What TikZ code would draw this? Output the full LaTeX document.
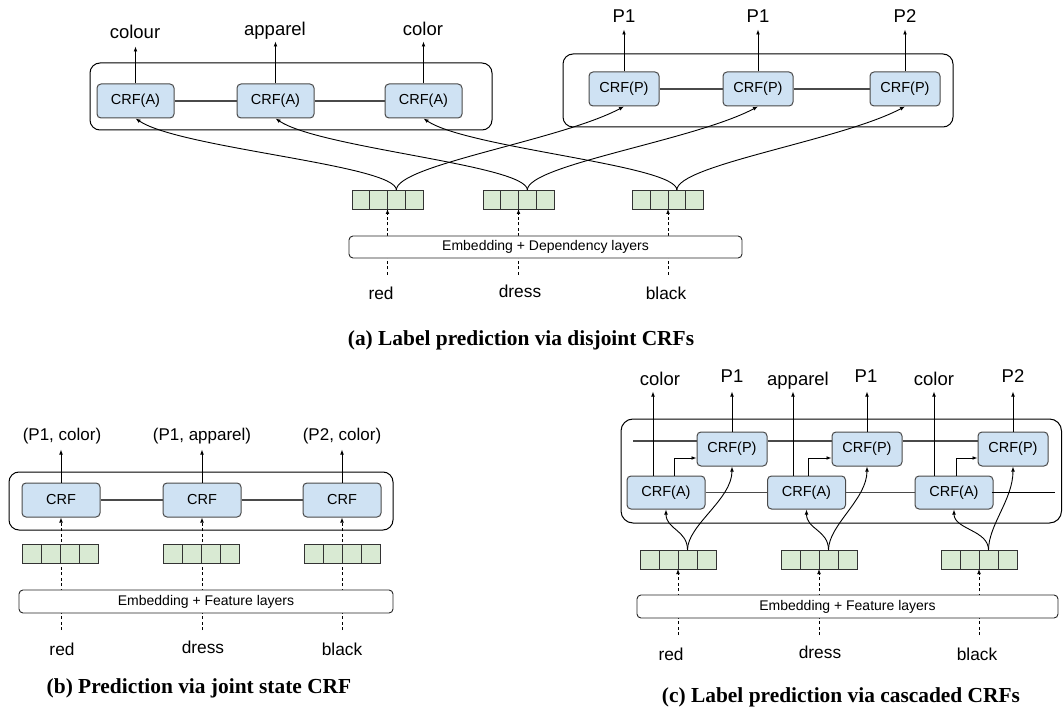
\documentclass[tikz,border=0pt]{standalone}
\usepackage{fontspec}
\setmainfont{Liberation Sans}
\newfontfamily\capfont{Liberation Serif}
\usetikzlibrary{arrows.meta}
\definecolor{crffill}{HTML}{CFE2F3}
\definecolor{crfline}{HTML}{4A4A4A}
\definecolor{barfill}{HTML}{D9EAD3}
\definecolor{barline}{HTML}{333333}
\newcommand{\fs}[1]{\fontsize{#1}{#1}\selectfont}
\newcommand{\featbar}[4]{\foreach \k in {1,2,3,4}{\node[cell, minimum width=#4pt] (#1-\k) at ({#2+(\k-2.5)*#4},#3) {};}}
\begin{document}
\begin{tikzpicture}[x=1pt,y=-1pt,
  crf/.style={draw=crfline, fill=crffill, rounded corners=4pt, line width=1pt, minimum height=34pt, inner sep=0pt, font=\fs{14.5}},
  cell/.style={draw=barline, fill=barfill, line width=0.9pt, minimum height=19pt, inner sep=0pt, outer sep=0pt},
  outerbox/.style={draw=black, line width=1pt, rounded corners=10pt},
  embbox/.style={draw=black!85, fill=white, line width=0.9pt, rounded corners=4pt, inner sep=0pt, font=\fs{14}},
  link/.style={draw=crfline, line width=1.1pt},
  arr/.style={draw=black, line width=0.9pt, -{Latex[length=5pt,width=3.8pt]}},
  dasharr/.style={arr, dash pattern=on 3pt off 2.5pt},
  lab/.style={anchor=base, inner sep=0pt, font=\fs{18.5}},
  labb/.style={anchor=base, inner sep=0pt, font=\fs{17}},
  word/.style={anchor=base, inner sep=0pt, font=\fs{17.3}},
  captext/.style={anchor=base, inner sep=0pt, font=\capfont\bfseries\fs{21.4}},
]
\useasboundingbox (0,0) rectangle (1063,711);

% ================= (a) =================
\draw[outerbox] (90,63) rectangle (492,130);
\draw[outerbox] (563,54) rectangle (953,127);
\node[crf, minimum width=77pt] (A1) at (135.5,101) {CRF(A)};
\node[crf, minimum width=77pt] (A2) at (275.5,101) {CRF(A)};
\node[crf, minimum width=77pt] (A3) at (423.5,101) {CRF(A)};
\node[crf, minimum width=70pt] (P1) at (624,89) {CRF(P)};
\node[crf, minimum width=70pt] (P2) at (758,89) {CRF(P)};
\node[crf, minimum width=70pt] (P3) at (905,89) {CRF(P)};
\draw[link] (A1) -- (A2);
\draw[link] (A2) -- (A3);
\draw[link] (P1) -- (P2);
\draw[link] (P2) -- (P3);
\node[lab] (la1) at (135,39) {colour};
\node[lab] (la2) at (275,36) {apparel};
\node[lab] (la3) at (423,36) {color};
\node[lab] (lp1) at (624,23) {P1};
\node[lab] (lp2) at (758,23) {P1};
\node[lab] (lp3) at (905,23) {P2};
\draw[arr] (A1.north) -- ++(0,-37);
\draw[arr] (A2.north) -- ++(0,-42);
\draw[arr] (A3.north) -- ++(0,-42);
\draw[arr] (P1.north) -- ++(0,-42);
\draw[arr] (P2.north) -- ++(0,-42);
\draw[arr] (P3.north) -- ++(0,-42);

\featbar{ba1}{387.5}{199.5}{17.75}
\featbar{ba2}{518.5}{199.5}{17.75}
\featbar{ba3}{668}{199.5}{17.75}

\foreach \b/\a/\p in {ba1/A1/P1, ba2/A2/P2, ba3/A3/P3}{
  \draw[arr] (\b-3.north) .. controls +(0,-25) and +(45,30) .. (\a.south);
  \draw[arr] (\b-3.north) .. controls +(0,-25) and +(-64,34) .. (\p.south);
}

\coordinate (da1) at (387.5,275);
\coordinate (da2) at (518.5,275);
\coordinate (da3) at (668,275);
\draw[dasharr] (da1) -- (ba1-2.south east);
\draw[dasharr] (da2) -- (ba2-2.south east);
\draw[dasharr] (da3) -- (ba3-2.south east);
\node[embbox, minimum width=393pt, minimum height=22pt] (emba) at (545.5,247) {Embedding + Dependency layers};
\node[word] (wa1) at (381,300) {red};
\node[word] (wa2) at (520,298) {dress};
\node[word] (wa3) at (666,300) {black};
\node[captext] (capa) at (521,345) {(a) Label prediction via disjoint CRFs};

% ================= (b) =================
\draw[outerbox] (9,472) rectangle (393,530);
\node[crf, minimum width=78pt] (J1) at (61,500) {CRF};
\node[crf, minimum width=78pt] (J2) at (202,500) {CRF};
\node[crf, minimum width=78pt] (J3) at (342,500) {CRF};
\draw[link] (J1) -- (J2);
\draw[link] (J2) -- (J3);
\node[labb] (lb1) at (62,440) {(P1, color)};
\node[labb] (lb2) at (202,440) {(P1, apparel)};
\node[labb] (lb3) at (342,440) {(P2, color)};
\draw[arr] (J1.north) -- ++(0,-33);
\draw[arr] (J2.north) -- ++(0,-33);
\draw[arr] (J3.north) -- ++(0,-33);
\coordinate (db1) at (61,630);
\coordinate (db2) at (202,630);
\coordinate (db3) at (342,630);
\draw[dasharr] (db1) -- (J1.south);
\draw[dasharr] (db2) -- (J2.south);
\draw[dasharr] (db3) -- (J3.south);
\featbar{bb1}{60}{553.5}{19}
\featbar{bb2}{201}{553.5}{19}
\featbar{bb3}{342}{553.5}{19}
\node[embbox, minimum width=374pt, minimum height=23pt] (embb) at (206,601.5) {Embedding + Feature layers};
\node[word] (wb1) at (62,655) {red};
\node[word] (wb2) at (203,653) {dress};
\node[word] (wb3) at (342,655) {black};
\node[captext] (capb) at (199,693) {(b) Prediction via joint state CRF};

% ================= (c) =================
\draw[outerbox, rounded corners=12pt] (621,419) rectangle (1061.5,523);
\node[crf, minimum width=70pt] (Q1) at (732,449) {CRF(P)};
\node[crf, minimum width=70pt] (Q2) at (867,449) {CRF(P)};
\node[crf, minimum width=70pt] (Q3) at (1013,449) {CRF(P)};
\node[crf, minimum width=78pt, minimum height=33pt] (C1) at (666,492.5) {CRF(A)};
\node[crf, minimum width=78pt, minimum height=33pt] (C2) at (806.5,492.5) {CRF(A)};
\node[crf, minimum width=78pt, minimum height=33pt] (C3) at (954,492.5) {CRF(A)};
\coordinate (tl) at (633,441);
\coordinate (br) at (1055,492.5);
\draw[link] (tl) -- ([yshift=8pt]Q1.west);
\draw[link] ([yshift=8pt]Q1.east) -- ([yshift=8pt]Q2.west);
\draw[link] ([yshift=8pt]Q2.east) -- ([yshift=8pt]Q3.west);
\draw[link] (C1) -- (C2);
\draw[link] (C2) -- (C3);
\draw[line width=0.9pt] ([xshift=-2pt]C3.east) -- (br);
\draw[arr] ([xshift=8pt]C1.north) |- ([yshift=-9pt]Q1.west);
\draw[arr] ([xshift=1.8pt]C2.north) |- ([yshift=-9pt]Q2.west);
\draw[arr] ([xshift=2pt]C3.north) |- ([yshift=-9pt]Q3.west);
\node[lab] (lc1) at (660,385) {color};
\node[lab] (lc2) at (732,382) {P1};
\node[lab] (lc3) at (798,385) {apparel};
\node[lab] (lc4) at (866,382) {P1};
\node[lab] (lc5) at (934,385) {color};
\node[lab] (lc6) at (1013,382) {P2};
\draw[arr] ([xshift=-13pt]C1.north) -- ++(0,-84);
\draw[arr] ([xshift=-13.5pt]C2.north) -- ++(0,-84);
\draw[arr] ([xshift=-20pt]C3.north) -- ++(0,-84);
\draw[arr] (Q1.north) -- ++(0,-40);
\draw[arr] (Q2.north) -- ++(0,-40);
\draw[arr] (Q3.north) -- ++(0,-40);

\featbar{bc1}{678}{559.5}{19}
\featbar{bc2}{819}{559.5}{19}
\featbar{bc3}{979}{559.5}{19}
\foreach \b/\a/\p in {bc1/C1/Q1, bc2/C2/Q2, bc3/C3/Q3}{
  \draw[arr] (\b-3.north) .. controls +(0,-20) and +(0,20) .. (\a.south);
  \draw[arr] (\b-3.north) .. controls +(0,-25) and +(0,33) .. (\p.south);
}
\coordinate (dc1) at (678,635);
\coordinate (dc2) at (819,635);
\coordinate (dc3) at (979,635);
\draw[dasharr] (dc1) -- (bc1-2.south east);
\draw[dasharr] (dc2) -- (bc2-2.south east);
\draw[dasharr] (dc3) -- (bc3-2.south east);
\node[embbox, minimum width=421pt, minimum height=23pt] (embc) at (847.5,606.5) {Embedding + Feature layers};
\node[word] (wc1) at (671,660) {red};
\node[word] (wc2) at (820,658) {dress};
\node[word] (wc3) at (977,660) {black};
\node[captext] (capc) at (841,702) {(c) Label prediction via cascaded CRFs};
\end{tikzpicture}
\end{document}
